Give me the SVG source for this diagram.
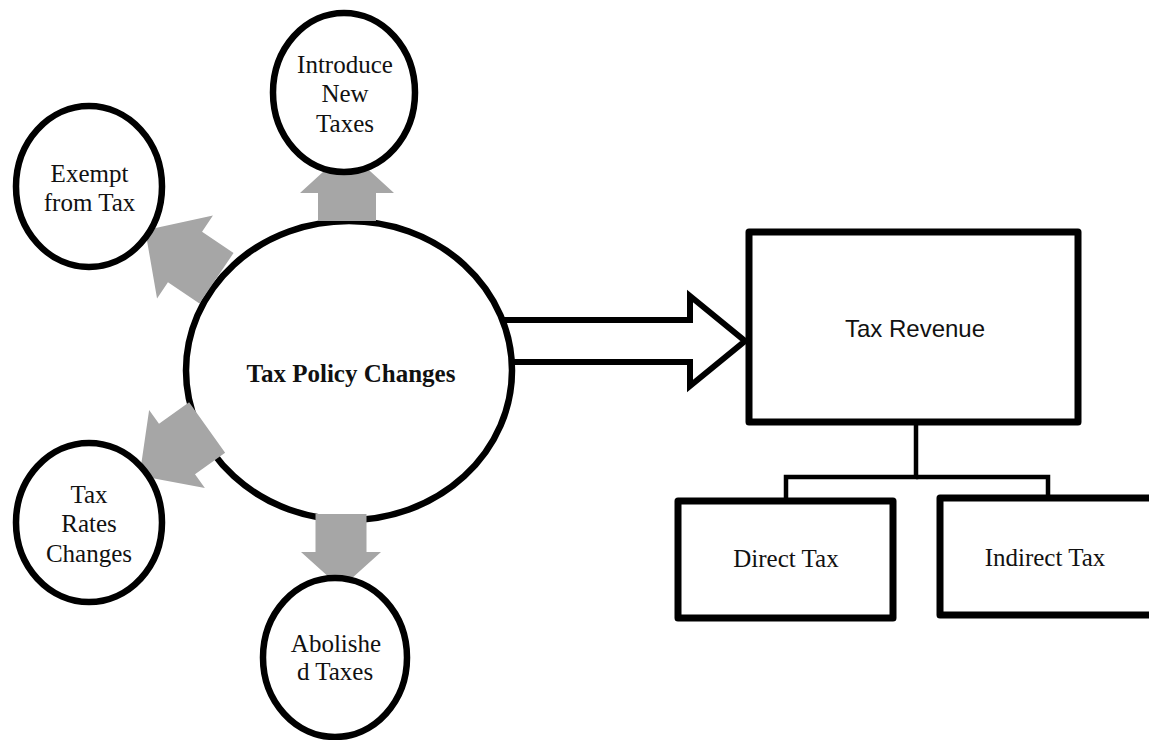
<svg xmlns="http://www.w3.org/2000/svg" width="1149" height="740" viewBox="0 0 1149 740">
<style>
.ell{fill:#fff;stroke:#000;stroke-width:6.5}
.box{fill:#fff;stroke:#000;stroke-width:7;stroke-linejoin:round}
.garr{fill:#a6a6a6;stroke:none}
.conn{fill:none;stroke:#000;stroke-width:4.5;stroke-linejoin:miter}
.big{fill:#fff;stroke:#000;stroke-width:6;stroke-linejoin:miter}
.t{font-family:"Liberation Serif","Times New Roman",serif;font-size:25px;fill:#111;text-anchor:middle}
.tb{font-weight:bold}
.ts{font-family:"Liberation Sans",Arial,sans-serif;font-size:24px;fill:#111;text-anchor:middle}
</style>
<rect width="1149" height="740" fill="#fff"/>
<g id="connectors">
<path class="big" d="M495,320 L690,320 L690,296 L745,341 L690,386 L690,362 L495,362"/>
</g>
<g id="tax-policy-changes">
<ellipse class="ell" cx="349" cy="370.5" rx="163" ry="149.5"/>
<text class="t tb" x="351" y="382">Tax Policy Changes</text>
</g>
<g id="gray-arrows">
<path class="garr" transform="translate(347,193) rotate(-90)" d="M-28,-29 L0,-29 L0,-47 L43,0 L0,47 L0,29 L-28,29 Z"/>
<path class="garr" transform="translate(341,552) rotate(90)" d="M-38,-25.5 L0,-25.5 L0,-40 L36,0 L0,40 L0,25.5 L-38,25.5 Z"/>
<path class="garr" transform="translate(185,257) rotate(214)" d="M-38,-30.5 L0,-30.5 L0,-50 L48,0 L0,50 L0,30.5 L-38,30.5 Z"/>
<path class="garr" transform="translate(177,449) rotate(144.5)" d="M-37,-31 L0,-31 L0,-48 L46,0 L0,48 L0,31 L-37,31 Z"/>
</g>
<g id="introduce-new-taxes">
<ellipse class="ell" cx="344" cy="92.5" rx="71" ry="79.5"/>
<text class="t" x="345" y="73">Introduce</text>
<text class="t" x="345" y="102">New</text>
<text class="t" x="345" y="132">Taxes</text>
</g>
<g id="exempt-from-tax">
<ellipse class="ell" cx="89" cy="186.5" rx="73" ry="80.5"/>
<text class="t" x="89.5" y="182">Exempt</text>
<text class="t" x="89.5" y="211">from Tax</text>
</g>
<g id="tax-rates-changes">
<ellipse class="ell" cx="89" cy="522.5" rx="73" ry="79.5"/>
<text class="t" x="89" y="503">Tax</text>
<text class="t" x="89" y="532">Rates</text>
<text class="t" x="89" y="562">Changes</text>
</g>
<g id="abolished-taxes">
<ellipse class="ell" cx="335" cy="657.5" rx="72" ry="79.5"/>
<text class="t" x="336" y="652">Abolishe</text>
<text class="t" x="335" y="680">d Taxes</text>
</g>
<g id="tree-connectors">
<polyline class="conn" points="916,423 916,477 786,477 786,501"/>
<polyline class="conn" points="916,477 1048,477 1048,498"/>
</g>
<g id="tax-revenue">
<rect class="box" x="749" y="232" width="329" height="190"/>
<text class="ts" x="915" y="337">Tax Revenue</text>
</g>
<g id="direct-tax">
<rect class="box" x="678" y="501" width="215" height="117"/>
<text class="t" x="786" y="567">Direct Tax</text>
</g>
<g id="indirect-tax">
<rect class="box" x="940" y="498" width="225" height="117"/>
<text class="t" x="1045" y="566">Indirect Tax</text>
</g>
</svg>
